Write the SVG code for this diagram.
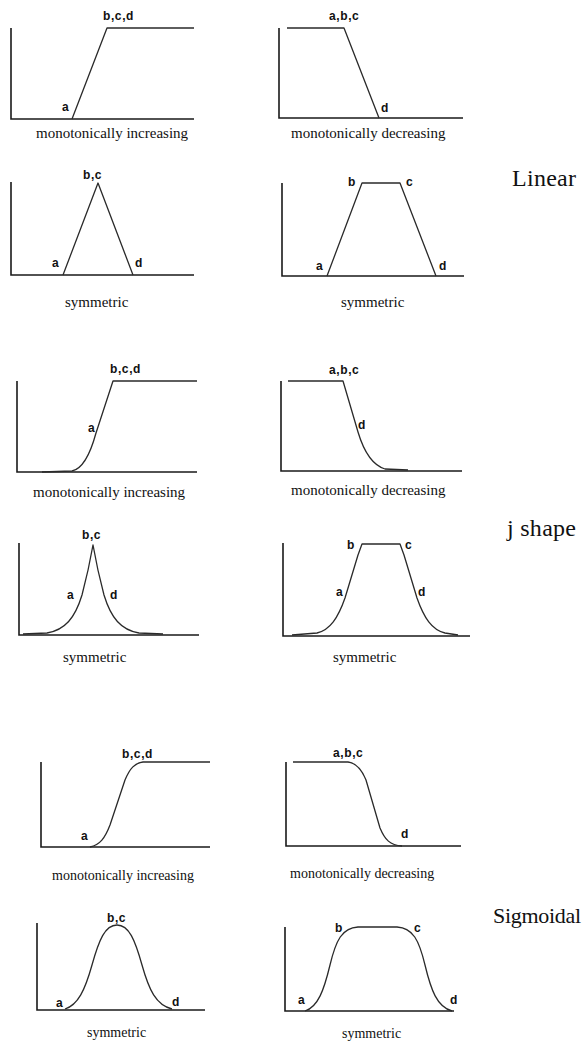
<svg xmlns="http://www.w3.org/2000/svg" width="582" height="1046" viewBox="0 0 582 1046">
<style>
.ax{fill:none;stroke:#1a1a1a;stroke-width:1.6}
.cv{fill:none;stroke:#2a2a2a;stroke-width:1.3;stroke-linejoin:round}
.lb{font-family:"Liberation Sans",Arial,sans-serif;font-weight:bold;font-size:12px;fill:#111;letter-spacing:0.6px}
.cap{font-family:"Liberation Serif","Times New Roman",serif;font-size:15px;fill:#111}
.cap2{font-family:"Liberation Serif","Times New Roman",serif;font-size:14px;fill:#111}
.ttl{font-family:"Liberation Serif","Times New Roman",serif;font-size:24px;fill:#111}
</style>
<rect width="582" height="1046" fill="#fff"/>

<g id="linear-inc">
<path class="ax" d="M11,28 V119 H194"/>
<path class="cv" d="M72,119 L107,28 H194"/>
<text class="lb" x="103" y="20">b,c,d</text>
<text class="lb" x="62" y="111">a</text>
<text class="cap" x="36" y="138">monotonically increasing</text>
</g>

<g id="linear-dec">
<path class="ax" d="M279,28 V118 H463"/>
<path class="cv" d="M287,28 H344 L379,118"/>
<text class="lb" x="329" y="20">a,b,c</text>
<text class="lb" x="381" y="112">d</text>
<text class="cap" x="291" y="138">monotonically decreasing</text>
</g>

<g id="linear-tri">
<path class="ax" d="M11,182 V275 H194"/>
<path class="cv" d="M63,275 L98,183 L133,275"/>
<text class="lb" x="83" y="179">b,c</text>
<text class="lb" x="52" y="267">a</text>
<text class="lb" x="135" y="267">d</text>
<text class="cap" x="65" y="307">symmetric</text>
</g>

<g id="linear-trap">
<path class="ax" d="M282,183 V276 H464"/>
<path class="cv" d="M327,276 L362,183 H400 L436,276"/>
<text class="lb" x="348" y="186">b</text>
<text class="lb" x="406" y="186">c</text>
<text class="lb" x="316" y="270">a</text>
<text class="lb" x="439" y="270">d</text>
<text class="cap" x="341" y="307">symmetric</text>
</g>

<text id="title-linear" class="ttl" x="512" y="186" textLength="64">Linear</text>

<g id="j-inc">
<path class="ax" d="M17,381 V472 H197"/>
<path class="cv" d="M42,472 L72,471 C82,469 90,455 96,433 L113,381 H197"/>
<text class="lb" x="110" y="373">b,c,d</text>
<text class="lb" x="88" y="432">a</text>
<text class="cap" x="33" y="497">monotonically increasing</text>
</g>

<g id="j-dec">
<path class="ax" d="M281,381 V471 H462"/>
<path class="cv" d="M288,381 H343 L358,432 C364,452 372,465 385,469 L408,470"/>
<text class="lb" x="358" y="429">d</text>
<text class="lb" x="329" y="374">a,b,c</text>
<text class="cap" x="291" y="495">monotonically decreasing</text>
</g>

<g id="j-peak">
<path class="ax" d="M19,543 V635 H199"/>
<path class="cv" d="M23,634 L47,633 C65,630 75,618 82,595 C86,580 90,562 93,545 C96,562 100,580 104,595 C111,618 121,630 139,633 L163,634"/>
<text class="lb" x="82" y="539">b,c</text>
<text class="lb" x="67" y="599">a</text>
<text class="lb" x="110" y="599">d</text>
<text class="cap" x="63" y="662">symmetric</text>
</g>

<g id="j-trap">
<path class="ax" d="M283,543 V636 H470"/>
<path class="cv" d="M292,635 L317,633 C330,630 338,618 345,598 L358,555 L362,544 H400 L404,555 L417,598 C424,618 432,630 445,633 L458,635"/>
<text class="lb" x="347" y="549">b</text>
<text class="lb" x="405" y="549">c</text>
<text class="lb" x="336" y="596">a</text>
<text class="lb" x="418" y="596">d</text>
<text class="cap" x="333" y="662">symmetric</text>
</g>

<text id="title-j" class="ttl" x="507" y="536" textLength="69">j shape</text>

<g id="sig-inc">
<path class="ax" d="M41,762 V847 H210"/>
<path class="cv" d="M90,847 C100,845 105,838 110,825 L125,780 C130,768 135,763 143,762 H210"/>
<text class="lb" x="122" y="758">b,c,d</text>
<text class="lb" x="81" y="840">a</text>
<text class="cap2" x="52" y="880">monotonically increasing</text>
</g>

<g id="sig-dec">
<path class="ax" d="M286,762 V846 H461"/>
<path class="cv" d="M293,762 H348 C356,763 362,770 366,780 L380,828 C385,840 390,845 402,846"/>
<text class="lb" x="333" y="757">a,b,c</text>
<text class="lb" x="401" y="838">d</text>
<text class="cap2" x="290" y="878">monotonically decreasing</text>
</g>

<g id="sig-bell">
<path class="ax" d="M37,923 V1010 H205"/>
<path class="cv" d="M65,1009 C78,1005 85,990 92,965 C99,940 105,925 117,925 C129,925 135,940 142,965 C149,990 156,1005 172,1009"/>
<text class="lb" x="107" y="922">b,c</text>
<text class="lb" x="56" y="1007">a</text>
<text class="lb" x="172" y="1006">d</text>
<text class="cap2" x="87" y="1037">symmetric</text>
</g>

<g id="sig-trap">
<path class="ax" d="M285,927 V1011 H454"/>
<path class="cv" d="M305,1011 C318,1007 324,990 330,965 C336,940 342,928 358,927 H397 C413,928 419,940 425,965 C431,990 437,1007 452,1011"/>
<text class="lb" x="335" y="932">b</text>
<text class="lb" x="414" y="932">c</text>
<text class="lb" x="298" y="1004">a</text>
<text class="lb" x="450" y="1004">d</text>
<text class="cap2" x="342" y="1038">symmetric</text>
</g>

<text id="title-sig" class="ttl" x="493" y="923" textLength="88" style="font-size:22px">Sigmoidal</text>
</svg>
